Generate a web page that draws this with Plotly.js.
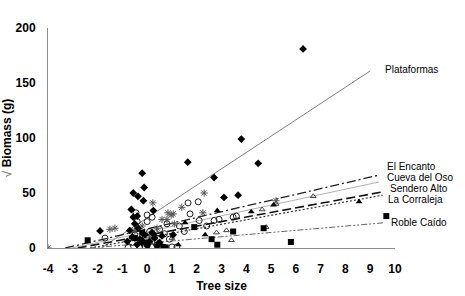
<!DOCTYPE html>
<html><head><meta charset="utf-8">
<script src="https://cdn.plot.ly/plotly-3.0.1.min.js"></script>
<style>html,body{margin:0;padding:0;background:#fff}#c{width:465px;height:296px}</style>
</head><body><div id="c"></div>
<script>
// Site names
const sites = ["Plataformas","El Encanto","Cueva del Oso","Sendero Alto","La Corraleja","Roble Caído"];
// Observed points (tree size, sqrt biomass)
const platX = [-1.9,-0.2,-0.12,-0.56,-0.37,-0.15,-0.64,0.25,1.64,2.7,3.1,3.67,3.8,4.48,6.29,-0.56,-0.5,-0.7,-0.36,-0.4,-0.6,-0.3,-0.1,0.1,0.3,0.5,-0.4,0.0,0.2,0.6,-0.2,0.4,1.05,-0.8];
const platY = [15.5,68,55,50,47,43,35,34,78,64,46,48,99,77,181,28,22,16,18,29,10,8,12,6,9,5,3,2,14,11,5,2,12,6];
const encX = [-4,-1.5,-1.3,0.23,2.3,1.4,0.84,0.97,0.6,2.25,-0.5,0.8,5.2,1.05,-0.2,0.4,1.1,0.1];
const encY = [0,17,18,41,50,37,32,30,26,32,16,26,43,31,20,18,22,10];
const cuevaX = [-1.7,-0.45,1.65,2.06,1.73,2.1,2.7,2.9,3.47,3.6,0.2,0,-0.77,1.0,1.2,-0.3,-0.1,0.2,0.4,0.6,0.3,-0.5,0.1,0.5,0.7,1.3,0.9,-0.4,0.0,-0.6,1.5,2.4,0.8];
const cuevaY = [9,32,41,42,31,25,25,26,28,29,28,24,0.5,1,1,1,2,1,3,1,6,12,15,17,13,20,8,24,30,5,15,20,22];
const sendX = [2.83,4.2,5.1,8.55,1.26,2.34,1.53,0.3,-0.2];
const sendY = [34,33,39,42,3,12,23,12,8];
const corrX = [3.2,3.4,4.64,4.8,6.7,2.8,5.2,0.5,1.0];
const corrY = [16,7,35,19,47,14,40,4,9];
const robleX = [-2.4,1.9,2.6,2.83,3.47,4.7,5.8,9.65,0.65,0.75,-0.5,0.0,-0.2];
const robleY = [7,19,8,3,15,18,5.5,29,1,0.5,9,5,14];
// Fitted trend line endpoints
const platLineX = [-1.85,9.0], platLineY = [0,161];
const encLineX = [-3.3,9.3], encLineY = [0,66];
const cuevaLineX = [-3.05,9.35], cuevaLineY = [0,60];
const sendLineX = [-2.8,9.5], sendLineY = [0,51];
const corrLineX = [-2.3,9.5], corrLineY = [0,48];
const robleLineX = [-2.3,9.6], robleLineY = [0,23];
// Label positions
const labelX = [9.5,9.6,9.6,9.7,9.65,9.75];
const labelY = [162,74,64.5,54.5,44.5,23];
const xTicks = [-4,-3,-2,-1,0,1,2,3,4,5,6,7,8,9,10];
const yTicks = [0,50,100,150,200];

function pts(x,y,sym,size,color,lw){
  return {x:x,y:y,type:'scatter',mode:'markers',hoverinfo:'skip',
    marker:{symbol:sym,size:size,color:color,line:{color:color,width:lw}}};
}
function ln(x,y,color,w,dash){
  return {x:x,y:y,type:'scatter',mode:'lines',hoverinfo:'skip',line:{color:color,width:w,dash:dash}};
}
const data = [
  ln(platLineX,platLineY,'#808080',1,'solid'),
  ln(encLineX,encLineY,'#222',1.3,'9px,3px,2px,3px'),
  ln(cuevaLineX,cuevaLineY,'#b0b0b0',1,'solid'),
  ln(sendLineX,sendLineY,'#111',1.6,'9px,4px'),
  ln(corrLineX,corrLineY,'#333',1.2,'2px,2px'),
  ln(robleLineX,robleLineY,'#666',1,'6px,2px,2px,2px,2px,2px'),
  pts(cuevaX,cuevaY,'circle-open',6,'#222',1),
  pts(encX,encY,'asterisk-open',6,'#555',1),
  pts(corrX,corrY,'triangle-up-open',5,'#444',1),
  pts(sendX,sendY,'triangle-up',6,'#000',0),
  pts(robleX,robleY,'square',6,'#000',0),
  pts(platX,platY,'diamond',6,'#000',0)
];
const annotations = sites.map((s,i)=>({x:labelX[i],y:labelY[i],text:s,xref:'x',yref:'y',
  xanchor:'left',yanchor:'middle',showarrow:false,font:{family:'Liberation Sans, Arial',size:10,color:'#000'}}));
const layout = {
  width:465,height:296,showlegend:false,
  paper_bgcolor:'#fff',plot_bgcolor:'#fff',
  margin:{l:48,r:70,t:28,b:48},
  font:{family:'Liberation Sans, Arial',color:'#000'},
  xaxis:{range:[-4,10],tickvals:xTicks,ticktext:xTicks.map(String),showgrid:false,zeroline:false,
    showline:true,linecolor:'#8c8c8c',linewidth:1,ticks:'outside',ticklen:10,tickcolor:'rgba(0,0,0,0)',
    tickfont:{size:12,weight:'bold'},
    title:{text:'Tree size',font:{size:12,weight:'bold'},standoff:6}},
  yaxis:{range:[0,200],tickvals:yTicks,ticktext:yTicks.map(String),showgrid:false,zeroline:false,
    showline:true,linecolor:'#8c8c8c',linewidth:1,ticks:'outside',ticklen:9,tickcolor:'rgba(0,0,0,0)',
    tickfont:{size:12,weight:'bold'},
    title:{text:'<span style="color:#888">√</span> Biomass (g)',font:{size:12,weight:'bold'},standoff:6}},
  annotations:annotations
};
Plotly.newPlot('c',data,layout,{staticPlot:true,displayModeBar:false});
</script></body></html>
